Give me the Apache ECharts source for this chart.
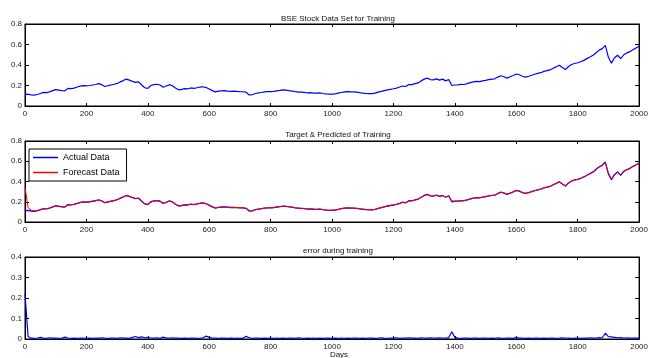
<!DOCTYPE html>
<html><head><meta charset="utf-8">
<script src="https://cdn.jsdelivr.net/npm/echarts@6/dist/echarts.min.js"></script>
<style>html,body{margin:0;padding:0;background:#fff}#c{width:651px;height:358px}</style>
</head><body><div id="c"></div>
<script>
const days = [0,10,20,30,40,50,60,70,80,90,100,110,120,130,140,150,160,170,180,190,
200,210,220,230,240,250,260,270,280,290,300,310,320,330,340,350,360,370,380,390,
400,410,420,430,440,450,460,470,480,490,500,510,520,530,540,550,560,570,580,590,
600,610,620,630,640,650,660,670,680,690,700,710,720,730,740,750,760,770,780,790,
800,810,820,830,840,850,860,870,880,890,900,910,920,930,940,950,960,970,980,990,
1000,1010,1020,1030,1040,1050,1060,1070,1080,1090,1100,1110,1120,1130,1140,1150,1160,1170,1180,1190,
1200,1210,1220,1230,1240,1250,1260,1270,1280,1290,1300,1310,1320,1330,1340,1350,1360,1370,1380,1390,
1400,1410,1420,1430,1440,1450,1460,1470,1480,1490,1500,1510,1520,1530,1540,1550,1560,1570,1580,1590,
1600,1610,1620,1630,1640,1650,1660,1670,1680,1690,1700,1710,1720,1730,1740,1750,1760,1770,1780,1790,
1800,1810,1820,1830,1840,1850,1860,1870,1880,1890,1900,1910,1920,1930,1940,1950,1960,1970,1980,1990,2000];

const actual = [.113,.115,.108,.106,.112,.122,.133,.130,.138,.150,
 .160,.155,.150,.148,.172,.170,.175,.185,.194,.198,
 .196,.200,.205,.210,.218,.208,.190,.198,.205,.212,
 .220,.235,.248,.262,.252,.240,.230,.235,.205,.178,
 .172,.200,.208,.212,.205,.183,.195,.208,.198,.175,
 .158,.163,.170,.168,.176,.172,.178,.185,.188,.180,
 .165,.150,.138,.145,.148,.150,.146,.143,.145,.142,
 .140,.139,.135,.108,.110,.122,.128,.132,.138,.140,
 .140,.143,.148,.152,.157,.155,.150,.146,.140,.136,
 .135,.132,.128,.130,.126,.125,.128,.122,.118,.115,
 .116,.118,.125,.132,.138,.140,.138,.137,.135,.130,
 .126,.123,.121,.120,.125,.135,.142,.150,.158,.163,
 .168,.175,.185,.195,.190,.210,.208,.218,.225,.245,
 .262,.272,.258,.255,.265,.252,.262,.245,.258,.200,
 .205,.206,.212,.210,.218,.228,.235,.240,.238,.245,
 .250,.258,.262,.265,.282,.295,.285,.272,.285,.298,
 .312,.305,.290,.282,.290,.300,.310,.318,.325,.338,
 .345,.352,.368,.382,.398,.375,.355,.385,.405,.415,
 .422,.432,.445,.462,.478,.495,.520,.545,.560,.592,
 .475,.418,.470,.495,.462,.500,.518,.530,.550,.565,
 .582];

const forecast = [.345,.140,.118,.110,.110,.119,.130,.132,.136,.147,
 .158,.157,.152,.149,.167,.171,.174,.183,.192,.197,
 .197,.199,.204,.209,.216,.210,.193,.197,.204,.211,
 .219,.232,.246,.259,.254,.242,.232,.233,.209,.182,
 .174,.196,.207,.211,.206,.186,.193,.206,.200,.178,
 .161,.162,.169,.169,.175,.173,.177,.184,.187,.182,
 .168,.153,.140,.144,.147,.150,.147,.144,.144,.143,
 .141,.139,.136,.113,.110,.120,.127,.131,.137,.140,
 .140,.142,.147,.151,.156,.156,.151,.147,.141,.137,
 .135,.133,.129,.129,.127,.125,.127,.123,.119,.116,
 .116,.118,.124,.131,.137,.140,.139,.137,.135,.131,
 .127,.124,.122,.120,.124,.133,.141,.149,.157,.162,
 .167,.174,.183,.193,.191,.207,.209,.216,.224,.242,
 .259,.270,.260,.256,.263,.254,.260,.247,.256,.208,
 .204,.206,.211,.211,.217,.226,.234,.239,.239,.244,
 .249,.257,.261,.265,.279,.293,.287,.274,.283,.296,
 .310,.306,.292,.283,.289,.299,.309,.317,.324,.336,
 .344,.351,.366,.380,.396,.378,.358,.382,.403,.414,
 .421,.431,.444,.460,.476,.493,.517,.542,.558,.588,
 .483,.425,.466,.492,.465,.497,.516,.529,.548,.563,
 .580];

const errorVals = [.220,.012,.004,.003,.005,.008,.004,.003,.006,.004,
 .005,.003,.004,.009,.005,.003,.004,.003,.005,.004,
 .003,.004,.003,.005,.004,.006,.004,.003,.005,.004,
 .003,.006,.004,.005,.003,.008,.012,.007,.010,.006,
 .008,.005,.004,.006,.003,.009,.004,.005,.006,.004,
 .005,.003,.004,.003,.005,.004,.003,.004,.006,.014,
 .008,.005,.004,.003,.005,.004,.003,.004,.003,.005,
 .003,.004,.013,.006,.003,.005,.004,.003,.004,.003,
 .004,.003,.005,.003,.004,.003,.005,.004,.003,.006,
 .004,.003,.004,.003,.005,.003,.004,.003,.005,.004,
 .003,.004,.003,.005,.003,.004,.003,.004,.005,.003,
 .004,.003,.005,.004,.003,.004,.006,.004,.003,.005,
 .004,.006,.003,.005,.004,.006,.004,.005,.003,.006,
 .005,.004,.006,.005,.004,.006,.005,.004,.007,.035,
 .008,.004,.003,.005,.004,.003,.005,.004,.003,.004,
 .005,.003,.004,.003,.006,.004,.003,.005,.004,.003,
 .008,.004,.005,.003,.004,.003,.005,.004,.003,.004,
 .003,.004,.005,.003,.004,.006,.005,.004,.003,.005,
 .004,.003,.005,.004,.006,.004,.005,.007,.006,.028,
 .012,.010,.008,.006,.007,.005,.006,.004,.005,.004,
 .004];

const titles = ['BSE Stock Data Set for Training', 'Target & Predicted of Training', 'error during training'];
const xLabel = 'Days';
const seriesNames = ['Actual Data', 'Forecast Data'];

const FONT = 'Liberation Sans, Arial, sans-serif';
const pairs = v => days.map((d, i) => [d, v[i]]);
const grids = [
  {left: 25, top: 24, width: 617, height: 82},
  {left: 25, top: 141, width: 617, height: 81},
  {left: 25, top: 257, width: 617, height: 82}
];
const ymax = [0.8, 0.8, 0.4], yint = [0.2, 0.2, 0.1];
const xAxes = [], yAxes = [];
grids.forEach((g, i) => {
  g.show = true; g.borderColor = '#000'; g.borderWidth = 1; g.backgroundColor = '#fff';
  ['bottom', 'top'].forEach(pos => xAxes.push({
    type: 'value', gridIndex: i, position: pos, min: 0, max: 2000, interval: 200,
    axisLine: {show: true, onZero: false, lineStyle: {color: '#000', width: 1}},
    axisTick: {show: true, inside: true, length: 3, lineStyle: {color: '#000'}},
    splitLine: {show: false},
    axisLabel: {show: pos === 'bottom', fontSize: 8, color: '#222', fontFamily: FONT, margin: 4,
      formatter: v => String(v)}
  }));
  ['left', 'right'].forEach(pos => yAxes.push({
    type: 'value', gridIndex: i, position: pos, min: 0, max: ymax[i], interval: yint[i],
    axisLine: {show: true, onZero: false, lineStyle: {color: '#000', width: 1}},
    axisTick: {show: true, inside: true, length: 4, lineStyle: {color: '#000'}},
    splitLine: {show: false},
    axisLabel: {show: pos === 'left', fontSize: 8, color: '#222', fontFamily: FONT, margin: 3}
  }));
});

const chart = echarts.init(document.getElementById('c'), null, {renderer: 'canvas'});
chart.setOption({
  animation: false,
  backgroundColor: '#fff',
  title: titles.map((t, i) => ({
    text: t, left: 333, top: [10, 126, 242][i], textAlign: 'center',
    textStyle: {fontSize: 8, fontWeight: 'normal', color: '#111', fontFamily: FONT}
  })).concat([{text: xLabel, left: 334, top: 346, textAlign: 'center',
    textStyle: {fontSize: 8, fontWeight: 'normal', color: '#111', fontFamily: FONT}}]),
  grid: grids,
  xAxis: xAxes,
  yAxis: yAxes,
  legend: {
    data: seriesNames.map(n => ({name: n, icon: 'rect'})),
    orient: 'vertical', left: 29, top: 149,
    backgroundColor: '#fff', borderColor: '#000', borderWidth: 1,
    padding: [3, 7, 3, 4], itemGap: 4, itemWidth: 25, itemHeight: 1.5,
    textStyle: {fontSize: 9, color: '#000', fontFamily: FONT, lineHeight: 11}
  },
  series: [
    {type: 'line', xAxisIndex: 0, yAxisIndex: 0, data: pairs(actual), symbol: 'none',
     lineStyle: {color: '#0000ff', width: 1.2}, itemStyle: {color: '#0000ff'}},
    {name: seriesNames[0], type: 'line', xAxisIndex: 2, yAxisIndex: 2, data: pairs(actual), symbol: 'none',
     lineStyle: {color: '#0000ff', width: 1.3}, itemStyle: {color: '#0000ff'}},
    {name: seriesNames[1], type: 'line', xAxisIndex: 2, yAxisIndex: 2, data: pairs(forecast), symbol: 'none',
     lineStyle: {color: '#ff0000', width: 1}, itemStyle: {color: '#ff0000'}},
    {type: 'line', xAxisIndex: 4, yAxisIndex: 4, data: pairs(errorVals), symbol: 'none',
     lineStyle: {color: '#0000ff', width: 1.2}, itemStyle: {color: '#0000ff'}}
  ]
});
</script></body></html>
